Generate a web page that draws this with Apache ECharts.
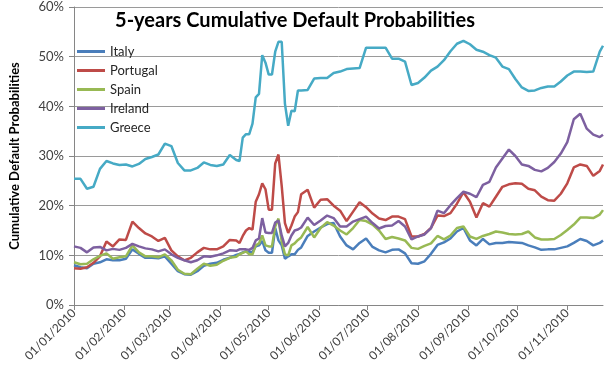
<!DOCTYPE html>
<html>
<head>
<meta charset="utf-8">
<title>5-years Cumulative Default Probabilities</title>
<script src="https://cdn.jsdelivr.net/npm/echarts@6/dist/echarts.min.js"></script>
<style>
  html, body { margin: 0; padding: 0; background: #fff; }
  #chart { width: 614px; height: 375px; }
</style>
</head>
<body>
<div id="chart"></div>
<script>
// sample dates (dd/mm/yyyy)
var sampleDates = [
  '01/01/2010', '05/01/2010', '09/01/2010', '13/01/2010', '17/01/2010', '21/01/2010', '25/01/2010', '29/01/2010',
  '02/02/2010', '06/02/2010', '10/02/2010', '14/02/2010', '18/02/2010', '22/02/2010', '26/02/2010',
  '02/03/2010', '06/03/2010', '10/03/2010', '14/03/2010', '18/03/2010', '22/03/2010', '26/03/2010', '30/03/2010',
  '03/04/2010', '07/04/2010', '11/04/2010', '13/04/2010', '15/04/2010', '17/04/2010', '19/04/2010', '21/04/2010',
  '23/04/2010', '25/04/2010', '27/04/2010', '29/04/2010',
  '01/05/2010', '03/05/2010', '05/05/2010', '07/05/2010', '09/05/2010', '11/05/2010', '13/05/2010', '15/05/2010',
  '17/05/2010', '19/05/2010', '21/05/2010', '25/05/2010', '29/05/2010',
  '02/06/2010', '06/06/2010', '10/06/2010', '14/06/2010', '18/06/2010', '22/06/2010', '26/06/2010', '30/06/2010',
  '04/07/2010', '08/07/2010', '12/07/2010', '16/07/2010', '20/07/2010', '24/07/2010', '28/07/2010',
  '01/08/2010', '05/08/2010', '09/08/2010', '13/08/2010', '17/08/2010', '21/08/2010', '25/08/2010', '29/08/2010',
  '02/09/2010', '06/09/2010', '10/09/2010', '14/09/2010', '18/09/2010', '22/09/2010', '26/09/2010', '30/09/2010',
  '04/10/2010', '08/10/2010', '12/10/2010', '16/10/2010', '20/10/2010', '24/10/2010', '28/10/2010',
  '01/11/2010', '05/11/2010', '09/11/2010', '13/11/2010', '17/11/2010', '21/11/2010', '23/11/2010'
]

// values in %
var italy = [
  8.0, 7.6, 7.4, 8.3, 8.6, 9.2, 9.0, 9.0,
  9.3, 11.2, 10.3, 9.5, 9.5, 9.4, 9.8,
  8.3, 6.8, 6.2, 6.1, 6.8, 7.9, 8.3, 8.5,
  9.1, 9.5, 10.1, 10.3, 10.6, 10.8, 10.6, 10.7, 11.8, 12.0, 12.9, 11.0,
  10.5, 10.5, 15.5, 13.0, 12.0, 9.3, 9.8, 10.2, 10.2, 11.1, 11.6, 13.9, 14.8,
  15.6, 16.3, 16.5, 13.8, 12.0, 11.2, 12.5, 13.4,
  11.7, 11.0, 10.6, 11.1, 11.2, 10.4, 8.4,
  8.3, 8.8, 10.3, 12.1, 12.6, 13.4, 14.8, 15.5,
  13.0, 12.0, 13.3, 12.2, 12.5, 12.5, 12.7, 12.6,
  12.5, 12.0, 11.6, 11.1, 11.2, 11.2, 11.5,
  11.8, 12.5, 13.3, 12.9, 12.0, 12.5, 13.0
]
var portugal = [
  7.4, 7.3, 7.6, 8.5, 9.8, 12.8, 11.8, 13.2,
  13.1, 16.8, 15.5, 14.4, 13.8, 12.9, 13.5,
  11.0, 9.8, 9.0, 9.5, 10.6, 11.5, 11.2, 11.2,
  11.8, 13.1, 13.0, 12.5, 13.9, 15.0, 15.5, 15.2, 20.8, 22.3, 24.5, 23.3,
  19.2, 19.2, 28.5, 30.3, 24.0, 16.5, 14.5, 16.0, 17.8, 18.7, 22.3, 23.2, 19.6,
  21.2, 21.3, 20.0, 19.0, 16.9, 18.8, 20.7, 19.7,
  18.4, 17.4, 17.1, 17.8, 17.8, 17.3, 13.8,
  13.8, 14.3, 15.5, 18.0, 17.9, 18.5, 20.4, 22.7,
  20.8, 17.6, 20.5, 19.8, 21.8, 23.8, 24.3, 24.5,
  24.4, 23.4, 23.1, 21.8, 21.1, 21.0, 22.4,
  24.5, 27.7, 28.3, 28.0, 26.0, 27.0, 28.3
]
var spain = [
  8.6, 8.2, 8.3, 9.2, 9.9, 10.4, 9.3, 9.6,
  9.8, 12.0, 10.6, 9.8, 9.8, 9.6, 10.2,
  9.0, 7.1, 6.3, 6.2, 7.3, 8.3, 7.9, 8.1,
  8.9, 9.5, 9.7, 10.2, 10.5, 10.8, 10.2, 10.2, 12.0, 12.4, 14.0, 12.0,
  11.8, 11.8, 15.8, 17.4, 12.8, 10.2, 10.0, 12.0, 12.4, 13.1, 13.6, 15.7, 13.6,
  15.5, 16.7, 16.0, 15.0, 14.2, 15.5, 17.1, 16.9,
  16.2, 15.0, 13.3, 13.7, 13.4, 13.0, 11.5,
  11.3, 11.9, 12.4, 13.9, 13.2, 14.0, 15.5, 15.8,
  13.8, 13.3, 13.9, 14.3, 14.8, 14.6, 14.3, 14.2,
  14.3, 14.8, 13.6, 13.2, 13.2, 13.3, 14.1,
  15.1, 16.2, 17.6, 17.6, 17.5, 18.2, 19.1
]
var ireland = [
  11.8, 11.5, 10.6, 11.6, 11.7, 11.0, 11.3, 11.1,
  11.5, 12.3, 11.8, 11.4, 11.2, 10.8, 11.2,
  10.2, 9.5, 9.0, 8.6, 9.0, 9.8, 9.7, 10.0,
  10.4, 11.0, 10.9, 11.2, 11.2, 11.2, 11.1, 11.5, 13.0, 13.4, 17.5, 14.6,
  14.5, 14.5, 16.6, 17.0, 14.0, 11.8, 12.5, 14.0, 15.0, 15.2, 15.6, 17.6, 16.1,
  17.0, 18.0, 17.5, 15.8, 15.8, 16.8, 17.3, 17.8,
  16.5, 15.4, 15.9, 16.0, 16.9, 15.8, 13.2,
  13.8, 14.2, 15.5, 19.0, 18.5, 20.1, 21.5, 22.8,
  22.4, 21.7, 24.2, 24.8, 27.7, 29.5, 31.3, 30.0,
  28.3, 28.0, 27.2, 26.9, 27.6, 28.8, 30.5,
  32.8, 37.4, 38.5, 35.5, 34.3, 33.8, 34.3
]
var greece = [
  25.4, 25.4, 23.4, 23.8, 27.4, 29.0, 28.5, 28.2,
  28.3, 27.9, 28.4, 29.4, 29.8, 30.3, 32.5,
  32.0, 28.6, 27.1, 27.1, 27.6, 28.7, 28.2, 28.0,
  28.3, 30.2, 29.2, 29.0, 33.7, 34.4, 34.4, 36.5, 41.8, 42.5, 50.3, 48.8,
  46.4, 46.4, 51.0, 53.0, 53.0, 40.5, 36.1, 39.1, 39.0, 43.2, 43.2, 43.3, 45.6,
  45.7, 45.7, 46.7, 47.0, 47.5, 47.6, 47.7, 51.8,
  51.8, 51.8, 51.8, 49.6, 49.6, 49.0, 44.3,
  44.7, 45.8, 47.2, 48.0, 49.3, 51.1, 52.6, 53.2,
  52.5, 51.4, 51.0, 50.3, 49.8, 48.0, 47.5, 45.5,
  43.8, 43.1, 43.2, 43.7, 44.0, 44.0, 45.0,
  46.2, 47.0, 47.0, 46.9, 47.0, 51.0, 52.2
]

var seriesNames = ['Italy', 'Portugal', 'Spain', 'Ireland', 'Greece']
var seriesColors = ['#4a7ebb', '#be4b48', '#98b954', '#7d60a0', '#46aac5']
var seriesValues = [italy, portugal, spain, ireland, greece]

// one category per calendar day, 01/01/2010 .. 23/11/2010
function pad(n) { return n < 10 ? '0' + n : '' + n }
var days = []
for (var t = Date.UTC(2010, 0, 1); t <= Date.UTC(2010, 10, 23); t += 86400000) {
  var dt = new Date(t)
  days.push(pad(dt.getUTCDate()) + '/' + pad(dt.getUTCMonth() + 1) + '/' + dt.getUTCFullYear())
}
function monthStart(index, value) {
  return value.slice(0, 2) === '01'
}

var chart = echarts.init(document.getElementById('chart'))
var axisGrey = '#868686'
var font = 'Lato, "Liberation Sans", sans-serif'

chart.setOption({
  backgroundColor: '#fff',
  animation: false,
  title: {
    text: '5-years Cumulative Default Probabilities',
    left: 295,
    top: 11,
    padding: 0,
    textAlign: 'center',
    textStyle: {
      fontFamily: font,
      fontSize: 20,
      fontWeight: 'bold',
      color: '#000'
    }
  },
  legend: {
    orient: 'vertical',
    left: 77,
    top: 44,
    padding: 0,
    icon: 'rect',
    itemWidth: 28,
    itemHeight: 3,
    itemGap: 4,
    data: seriesNames,
    textStyle: {
      fontFamily: font,
      fontSize: 13,
      lineHeight: 15,
      color: '#262626'
    }
  },
  grid: {
    left: 61,
    right: 11,
    top: 7,
    bottom: 70,
    containLabel: false
  },
  xAxis: {
    type: 'category',
    data: days,
    boundaryGap: false,
    axisLine: { lineStyle: { color: axisGrey, width: 1 } },
    axisTick: {
      interval: monthStart,
      length: 5,
      lineStyle: { color: axisGrey }
    },
    axisLabel: {
      interval: monthStart,
      rotate: 45,
      margin: 6,
      fontFamily: font,
      fontSize: 12,
      color: '#404040'
    },
    splitLine: { show: false }
  },
  yAxis: {
    type: 'value',
    min: 0,
    max: 60,
    interval: 10,
    name: 'Cumulative Default Probabilities',
    nameLocation: 'middle',
    nameRotate: 90,
    nameGap: 53,
    nameTextStyle: {
      fontFamily: font,
      fontSize: 13,
      fontWeight: 'bold',
      color: '#000'
    },
    axisLine: { show: true, lineStyle: { color: axisGrey, width: 1 } },
    axisTick: { show: true, length: 5, lineStyle: { color: axisGrey } },
    axisLabel: {
      formatter: '{value}%',
      margin: 10,
      fontFamily: font,
      fontSize: 13,
      color: '#404040'
    },
    splitLine: { lineStyle: { color: '#9a9a9a', width: 1 } }
  },
  series: seriesNames.map(function(name, k) {
    return {
      name: name,
      type: 'line',
      symbol: 'none',
      color: seriesColors[k],
      lineStyle: { width: 2.5, color: seriesColors[k] },
      data: sampleDates.map(function(d, i) {
        return [days.indexOf(d), seriesValues[k][i]]
      })
    }
  })
})
</script>
</body>
</html>
